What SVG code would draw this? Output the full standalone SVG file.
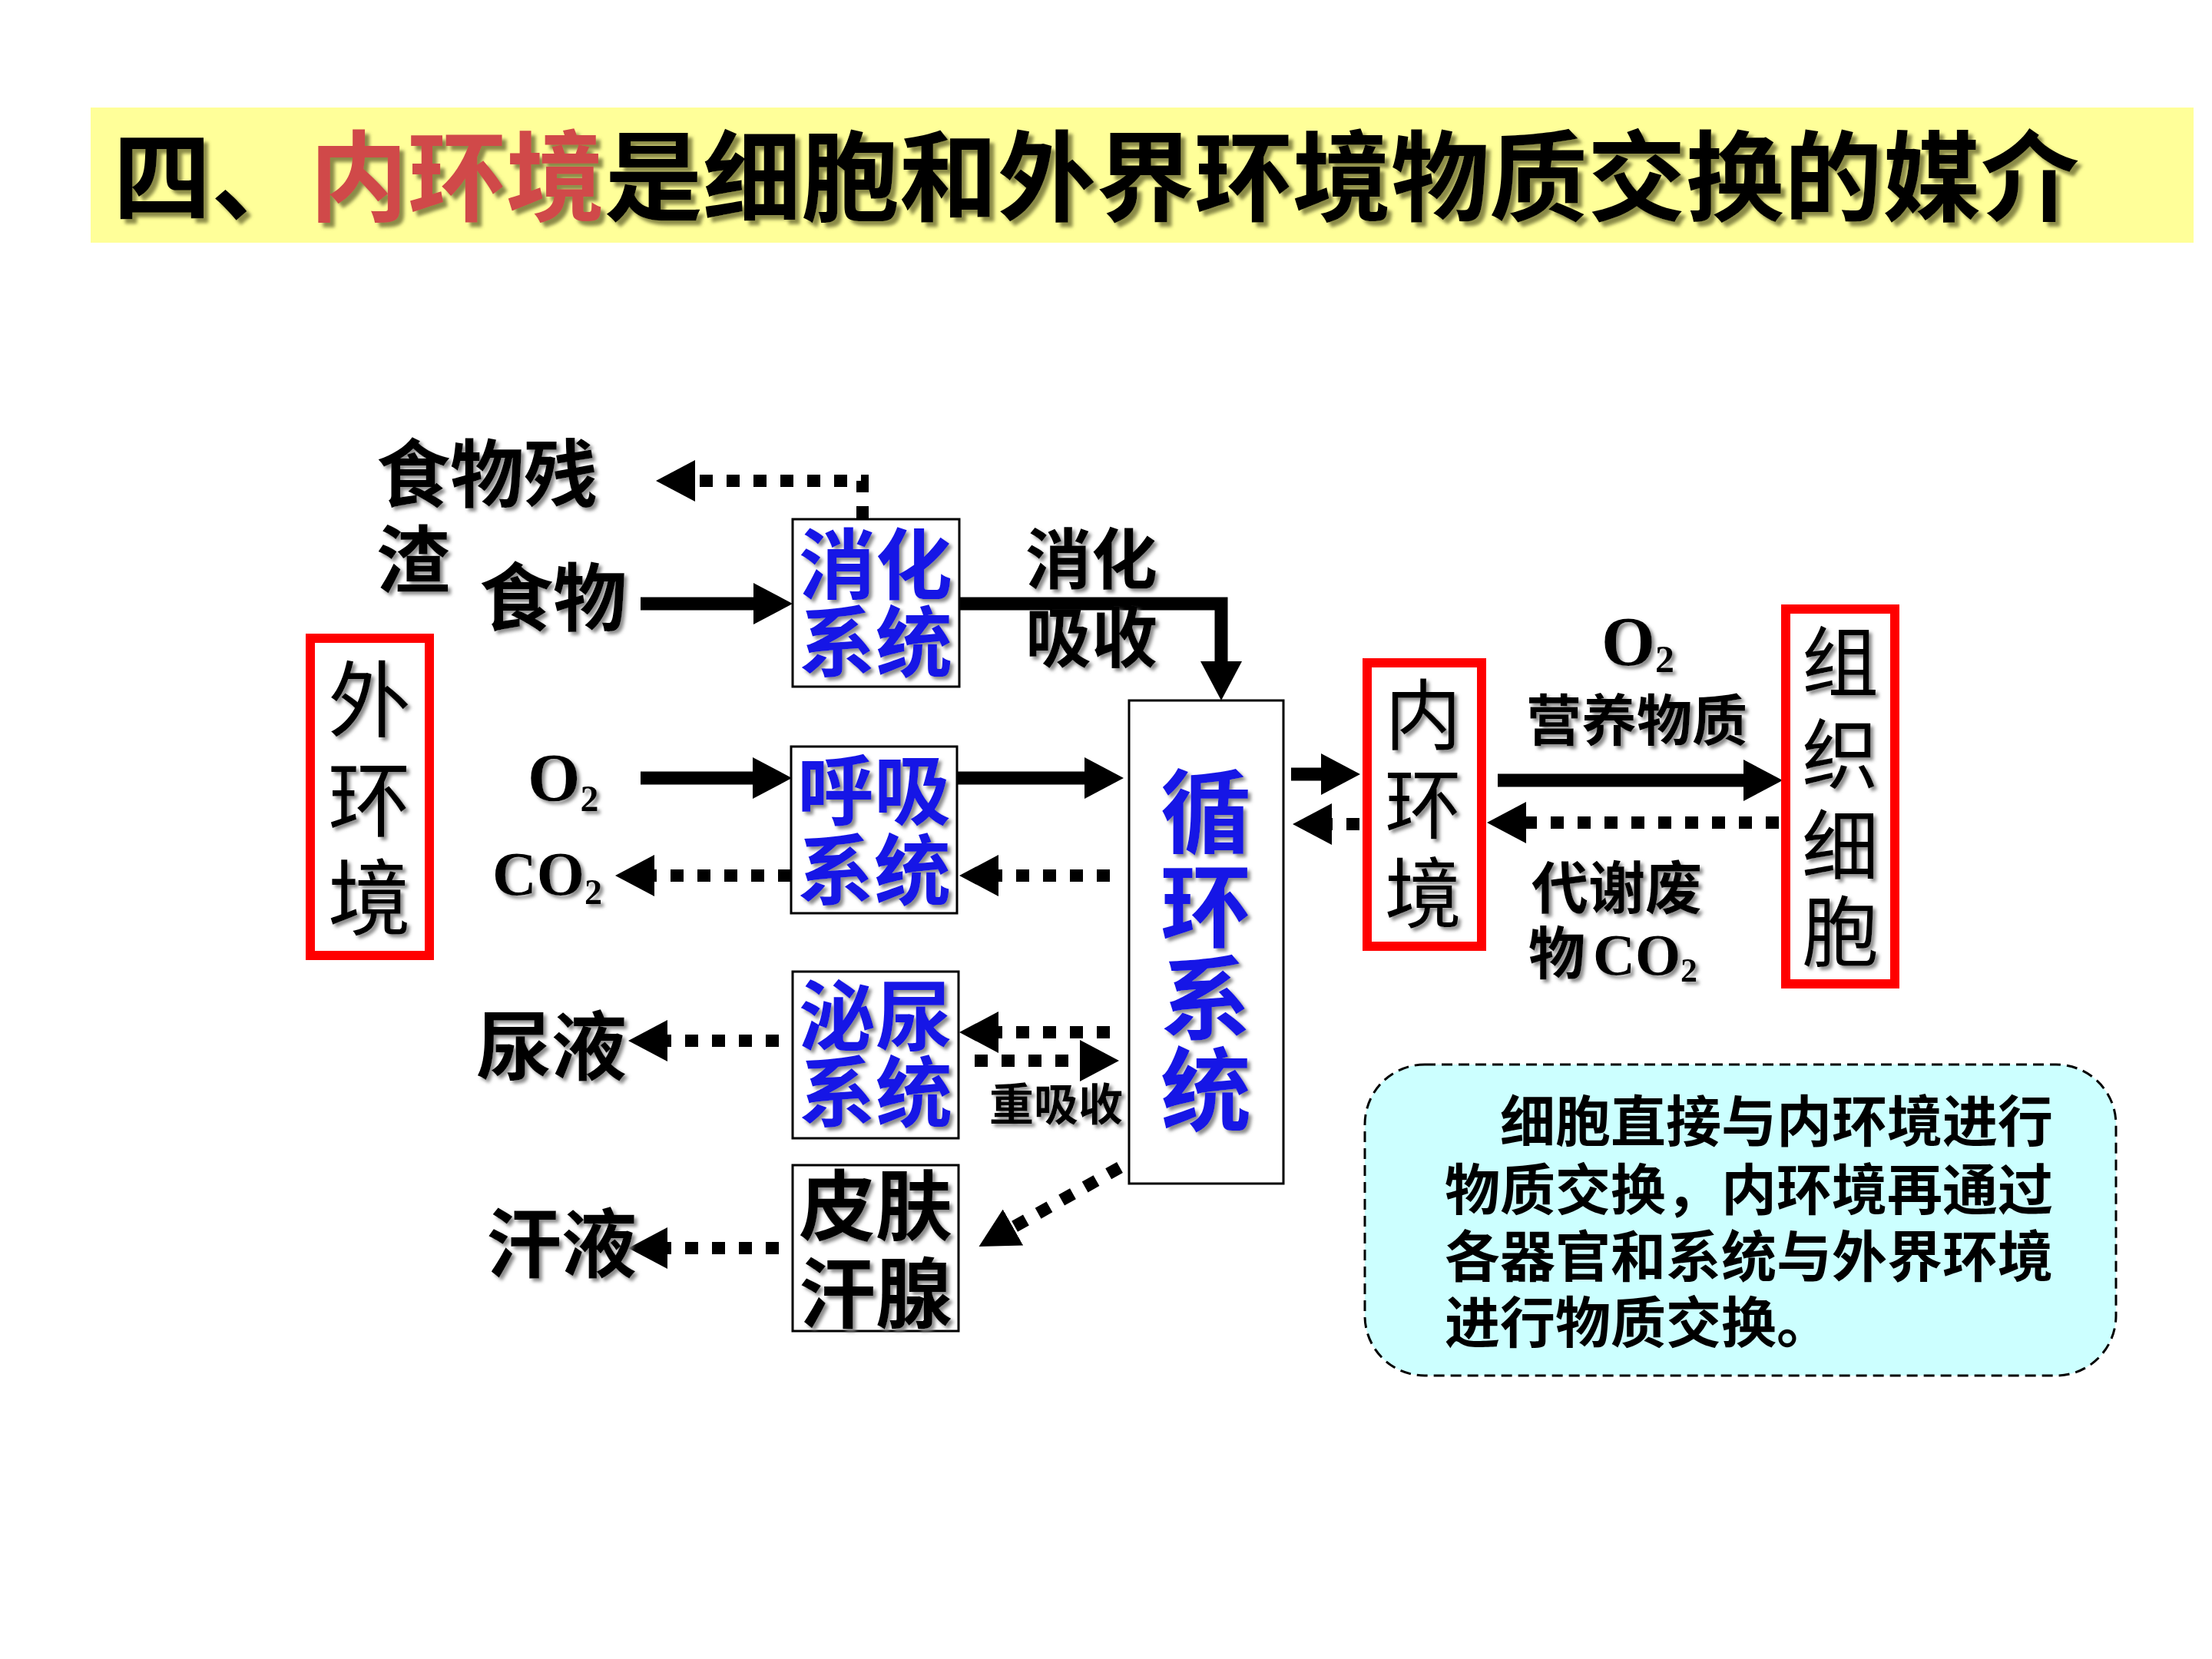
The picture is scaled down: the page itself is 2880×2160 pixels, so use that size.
<svg xmlns="http://www.w3.org/2000/svg" width="2880" height="2160" viewBox="0 0 2880 2160">
<defs>
<style>
.cjk{font-family:"Noto Sans CJK SC","Noto Sans CJK JP",sans-serif;}
.b{font-weight:700;}
.n{font-weight:400;}
.blue{fill:#1414E6;}
.blk{fill:#000;}
.ser{font-family:"Liberation Serif","Times New Roman",serif;font-weight:700;fill:#000;}
.box{fill:#fff;stroke:#000;stroke-width:3;}
.red{fill:#fff;stroke:#F00;stroke-width:12;}
.solid{fill:none;stroke:#000;stroke-width:17;stroke-linejoin:miter;}
.dot{fill:none;stroke:#000;stroke-width:16;stroke-dasharray:17 18;}
.sh{filter:url(#sh);}
</style>
<filter id="sh" x="-10%" y="-10%" width="130%" height="130%">
<feDropShadow dx="4" dy="4" stdDeviation="2" flood-color="#808080" flood-opacity="0.9"/>
</filter>
<filter id="tsh" x="-5%" y="-10%" width="110%" height="130%">
<feDropShadow dx="6" dy="6" stdDeviation="2" flood-color="#77773a" flood-opacity="0.85"/>
</filter>
<marker id="ah" markerUnits="userSpaceOnUse" markerWidth="52" markerHeight="54" refX="0" refY="27" orient="auto">
<path d="M0,0 L51,27 L0,54 Z" fill="#000"/>
</marker>
</defs>
<rect x="0" y="0" width="2880" height="2160" fill="#fff"/>

<g id="title">
<rect x="118" y="140" width="2738" height="176" fill="#FFFF99"/>
<text x="147" y="278" class="cjk b" font-size="128" filter="url(#tsh)"><tspan fill="#000">四、</tspan><tspan fill="#D04848">内环境</tspan><tspan fill="#000">是细胞和外界环境物质交换的媒介</tspan></text>
</g>

<g id="connectors">
<path class="solid" d="M834,786 H981" marker-end="url(#ah)"/>
<path class="solid" d="M1250,786 H1590 V861" marker-end="url(#ah)"/>
<path class="solid" d="M834,1013 H980" marker-end="url(#ah)"/>
<path class="solid" d="M1246,1013 H1412" marker-end="url(#ah)"/>
<path class="solid" d="M1681,1008 H1720" marker-end="url(#ah)"/>
<path class="solid" d="M1950,1016 H2270" marker-end="url(#ah)"/>
<path class="dot" d="M1123,676 V626 H905" marker-end="url(#ah)"/>
<path class="dot" d="M1030,1140 H852" marker-end="url(#ah)"/>
<path class="dot" d="M1445,1140 H1300" marker-end="url(#ah)"/>
<path class="dot" d="M1014,1355 H869" marker-end="url(#ah)"/>
<path class="dot" d="M1445,1344 H1300" marker-end="url(#ah)"/>
<path class="dot" d="M1269,1381 H1406" marker-end="url(#ah)"/>
<path class="dot" d="M1014,1625 H869" marker-end="url(#ah)"/>
<path class="dot" d="M1458,1520 L1319,1598" marker-end="url(#ah)"/>
<path class="dot" d="M2316,1071 H1987" marker-end="url(#ah)"/>
<path class="dot" d="M1770,1073 H1734" marker-end="url(#ah)"/>
</g>

<g id="outer-env">
<rect class="red" x="404" y="831" width="155" height="413"/>
<text class="cjk n blk sh" font-size="108" text-anchor="middle"><tspan x="481" y="951">外</tspan><tspan x="481" y="1081">环</tspan><tspan x="481" y="1209">境</tspan></text>
</g>

<g id="food-residue">
<text class="cjk b blk sh" font-size="96"><tspan x="490" y="652">食物残</tspan><tspan x="490" y="764">渣</tspan></text>
</g>

<g id="labels-left" class="cjk b blk sh">
<text x="624" y="813" font-size="96">食物</text>
<text x="620" y="1398" font-size="98">尿液</text>
<text x="633" y="1655" font-size="98">汗液</text>
</g>

<g id="gas-left" class="sh">
<text x="687" y="1042" class="ser" font-size="88">O<tspan font-size="48" dy="14">2</tspan></text>
<text x="641" y="1165" class="ser" font-size="80">CO<tspan font-size="46" dy="12">2</tspan></text>
</g>

<g id="digestive">
<rect class="box" x="1032" y="676" width="217" height="218"/>
<text class="cjk b blue sh" font-size="100" text-anchor="middle"><tspan x="1140" y="772">消化</tspan><tspan x="1140" y="873">系统</tspan></text>
</g>

<g id="absorb-label">
<text class="cjk b blk sh" font-size="86"><tspan x="1335" y="760">消化</tspan><tspan x="1335" y="862">吸收</tspan></text>
</g>

<g id="respiratory">
<rect class="box" x="1030" y="972" width="216" height="217"/>
<text class="cjk b blue sh" font-size="100" text-anchor="middle"><tspan x="1138" y="1066">呼吸</tspan><tspan x="1138" y="1170">系统</tspan></text>
</g>

<g id="urinary">
<rect class="box" x="1032" y="1265" width="216" height="217"/>
<text class="cjk b blue sh" font-size="100" text-anchor="middle"><tspan x="1140" y="1360">泌尿</tspan><tspan x="1140" y="1459">系统</tspan></text>
</g>

<g id="reabsorb-label">
<text x="1288" y="1459" class="cjk b blk sh" font-size="58">重吸收</text>
</g>

<g id="skin">
<rect class="box" x="1032" y="1517" width="216" height="216"/>
<text class="cjk b blk sh" font-size="100" text-anchor="middle"><tspan x="1140" y="1607">皮肤</tspan><tspan x="1140" y="1721">汗腺</tspan></text>
</g>

<g id="circulatory">
<rect class="box" x="1470" y="912" width="201" height="629"/>
<text class="cjk b blue sh" font-size="118" text-anchor="middle"><tspan x="1570" y="1101">循</tspan><tspan x="1570" y="1224">环</tspan><tspan x="1570" y="1344">系</tspan><tspan x="1570" y="1463">统</tspan></text>
</g>

<g id="inner-env">
<rect class="red" x="1780" y="863" width="149" height="369"/>
<text class="cjk n blk sh" font-size="100" text-anchor="middle"><tspan x="1853" y="968">内</tspan><tspan x="1853" y="1084">环</tspan><tspan x="1853" y="1200">境</tspan></text>
</g>

<g id="exchange-labels" class="sh">
<text x="2085" y="866" class="ser" font-size="90">O<tspan font-size="50" dy="9">2</tspan></text>
<text x="1987" y="964" class="cjk b blk" font-size="72">营养物质</text>
<text class="cjk b blk" font-size="74"><tspan x="1994" y="1183">代谢废</tspan><tspan x="1990" y="1268">物</tspan></text>
<text x="2074" y="1269" class="ser" font-size="76">CO<tspan font-size="44" dy="9">2</tspan></text>
</g>

<g id="tissue-cells">
<rect class="red" x="2325" y="793" width="142" height="488"/>
<text class="cjk n blk sh" font-size="100" text-anchor="middle"><tspan x="2396" y="899">组</tspan><tspan x="2396" y="1019">织</tspan><tspan x="2396" y="1138">细</tspan><tspan x="2396" y="1250">胞</tspan></text>
</g>

<g id="note">
<rect x="1777" y="1386" width="978" height="405" rx="78" ry="78" fill="#CCFFFF" stroke="#000" stroke-width="3" stroke-dasharray="14 8"/>
<text class="cjk b blk" font-size="72"><tspan x="1953" y="1486">细胞直接与内环境进行</tspan><tspan x="1881" y="1575">物质交换，内环境再通过</tspan><tspan x="1881" y="1662">各器官和系统与外界环境</tspan><tspan x="1881" y="1748">进行物质交换。</tspan></text>
</g>
</svg>
